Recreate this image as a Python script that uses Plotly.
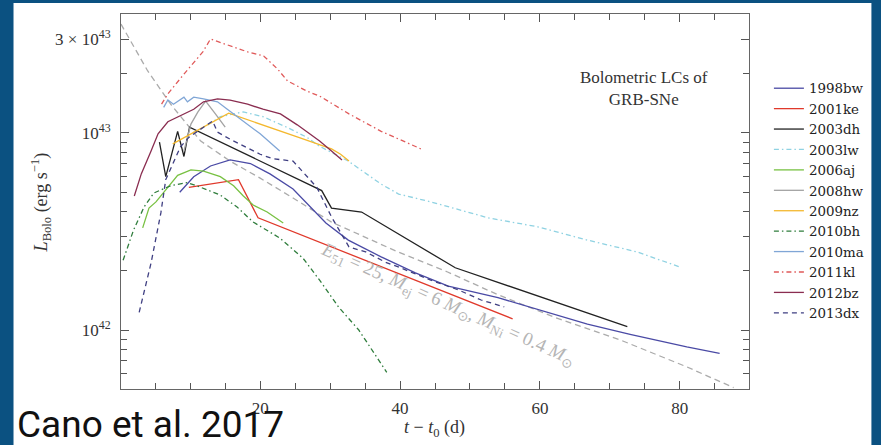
import plotly.graph_objects as go

# ---------------- data (L in units of 1e42 erg/s, t in days) ----------------
model_t = [0.1, 3.9, 7.2, 11.5, 15.7, 20.0, 24.7, 30.2, 39.7, 46.8, 54.0, 62.1, 71.5, 81.0, 87.7]
model_L = [35.7, 20.7, 14.0, 9.1, 7.2, 5.9, 4.68, 3.53, 2.49, 1.97, 1.51, 1.16, 0.89, 0.65, 0.51]

bw98_t = [8.5, 10.5, 12.9, 15.7, 18.6, 21.4, 24.7, 29.4, 32.6, 37.3, 42.2, 46.9, 54.0, 59.7, 66.8, 72.9, 81.0, 85.7]
bw98_L = [5.0, 6.0, 6.8, 7.3, 7.0, 6.2, 5.2, 3.49, 2.86, 2.35, 1.95, 1.67, 1.46, 1.27, 1.07, 0.95, 0.82, 0.76]

ke01_t = [9.8, 16.9, 19.7, 56.1]
ke01_L = [5.3, 5.8, 3.71, 1.14]

dh03_t = [5.6, 6.5, 8.2, 9.1, 9.9, 28.8, 30.2, 34.5, 47.9, 72.5]
dh03_L = [9.0, 6.0, 10.2, 7.6, 10.7, 5.1, 4.16, 3.97, 2.07, 1.04]

lw03_t = [12.5, 14.3, 17.6, 20.4, 23.8, 26.7, 28.4, 32.6, 37.3, 39.8, 44.4, 52.6, 59.7, 66.8, 73.9, 80.0]
lw03_L = [11.0, 12.1, 12.8, 12.1, 10.7, 9.5, 8.6, 7.2, 5.5, 4.9, 4.47, 3.71, 3.34, 2.86, 2.49, 2.09]

aj06_t = [3.2, 4.1, 5.1, 6.8, 8.2, 10.1, 11.9, 14.3, 16.2, 17.6, 19.0, 21.0, 23.3]
aj06_L = [3.30, 4.16, 4.47, 5.3, 6.1, 6.5, 6.4, 6.0, 5.4, 4.79, 4.31, 3.97, 3.49]

hw08_t = [9.1, 10.1, 11.1, 12.2, 13.6, 15.0]
hw08_L = [8.1, 11.1, 12.8, 14.5, 12.5, 10.7]

nz09_t = [7.5, 15.5, 25.5, 30.2, 31.5, 32.7]
nz09_L = [8.8, 12.6, 9.5, 8.3, 7.8, 7.2]

bh10_t = [0.4, 1.9, 3.4, 4.8, 7.2, 9.6, 11.5, 14.3, 16.7, 19.0, 22.8, 26.1, 28.5, 31.2, 34.1, 36.9, 38.1]
bh10_L = [2.26, 3.22, 4.21, 4.96, 5.4, 5.6, 5.3, 4.84, 4.21, 3.53, 2.93, 2.32, 1.79, 1.31, 1.0, 0.70, 0.61]

ma10_t = [6.2, 6.8, 7.6, 9.1, 9.6, 10.5, 11.9, 13.9, 15.3, 18.2, 20.0, 22.8]
ma10_L = [13.5, 14.7, 14.0, 15.2, 14.4, 15.2, 14.9, 14.4, 13.2, 11.1, 9.9, 8.1]

kl11_t = [5.9, 6.8, 9.1, 11.8, 12.9, 15.7, 18.2, 20.5, 22.5, 23.9, 26.7, 28.5, 32.7, 37.3, 43.0]
kl11_L = [14.0, 15.8, 19.9, 25.8, 30.0, 27.7, 25.8, 24.6, 21.1, 18.4, 16.3, 15.4, 12.5, 10.2, 8.3]

bz12_t = [2.0, 3.0, 4.4, 5.4, 6.8, 8.6, 10.5, 11.9, 13.9, 15.7, 18.2, 20.4, 22.9, 25.3, 27.5, 28.5, 30.2, 31.7]
bz12_L = [4.79, 6.2, 8.1, 9.9, 11.4, 12.2, 13.2, 14.4, 14.9, 14.7, 14.0, 13.2, 12.5, 11.0, 9.66, 9.1, 8.1, 7.3]

dx13_t = [2.7, 4.4, 5.8, 6.5, 8.6, 9.8, 11.9, 13.2, 13.9, 15.7, 20.0, 21.8, 24.7, 26.7, 28.1, 30.2, 32.7, 35.1, 37.9, 40.2, 44.4, 48.3, 51.6, 54.9]
dx13_L = [1.23, 2.19, 3.93, 5.8, 8.5, 9.5, 10.7, 11.5, 10.1, 9.3, 7.8, 7.4, 7.2, 6.0, 5.3, 3.75, 2.64, 2.49, 2.21, 2.06, 1.79, 1.60, 1.42, 1.31]

names = ["1998bw", "2001ke", "2003dh", "2003lw", "2006aj", "2008hw",
         "2009nz", "2010bh", "2010ma", "2011kl", "2012bz", "2013dx"]
series_t = [bw98_t, ke01_t, dh03_t, lw03_t, aj06_t, hw08_t, nz09_t, bh10_t, ma10_t, kl11_t, bz12_t, dx13_t]
series_L = [bw98_L, ke01_L, dh03_L, lw03_L, aj06_L, hw08_L, nz09_L, bh10_L, ma10_L, kl11_L, bz12_L, dx13_L]
colors = ["#4a4aa5", "#e0392b", "#222222", "#8fd2e2", "#78c142", "#a3a3a3",
          "#f4b82e", "#2f7d3c", "#80a6d6", "#e05a5a", "#8a2d50", "#3f3f82"]
DD = "5px,3px,1.5px,3px"
dashes = ["solid", "solid", "solid", DD, "solid", "solid",
          "solid", DD, "solid", DD, "solid", "5px,4px"]

ytick_vals = [1, 10, 30]
ytick_text = ["10<sup>42</sup>", "10<sup>43</sup>", "3 × 10<sup>43</sup>"]
yminor_vals = [0.6, 0.7, 0.8, 0.9, 2, 3, 4, 5, 6, 7, 8, 9, 20]
xtick_vals = [20, 40, 60, 80]

SERIF = "Liberation Serif"
BLUE = "#0b5181"

fig = go.Figure()

fig.add_trace(go.Scatter(x=model_t, y=model_L, mode="lines", showlegend=False,
                         line=dict(color="#ababab", width=1.3, dash="6px,4px"),
                         hoverinfo="skip"))

for n, t, L, c, d in zip(names, series_t, series_L, colors, dashes):
    fig.add_trace(go.Scatter(x=t, y=L, mode="lines", name=n,
                             line=dict(color=c, width=1.3, dash=d)))

axis_common = dict(showline=True, linecolor="#666666", linewidth=1, mirror="allticks",
                   ticks="inside", tickcolor="#555555", tickwidth=1, ticklen=8,
                   showgrid=False, zeroline=False,
                   tickfont=dict(family=SERIF, size=17, color="#333333"))

fig.update_xaxes(range=[0.1, 89.9], tickmode="array", tickvals=xtick_vals,
                 minor=dict(dtick=5, tick0=0, ticks="inside", ticklen=6, tickcolor="#555555"),
                 ticklabelstandoff=4, **axis_common)
fig.update_yaxes(type="log", range=[-0.2995, 1.604], tickmode="array",
                 tickvals=ytick_vals, ticktext=ytick_text,
                 minor=dict(tickmode="array", tickvals=yminor_vals, ticks="inside",
                            ticklen=6, tickcolor="#555555"),
                 ticklabelstandoff=6, **axis_common)

W, H = 881, 445
L_, R_, T_, B_ = 121, 752, 14, 389
pw, ph = R_ - L_, B_ - T_
def px(x):
    return (x - L_) / pw
def py(y):
    return (B_ - y) / ph

fig.add_shape(type="rect", xref="paper", yref="paper", layer="below",
              x0=px(13), x1=px(875), y0=py(446), y1=py(3),
              fillcolor="white", line=dict(width=0))

annotations = [
    dict(x=px(647), y=py(88), text="Bolometric LCs of<br>GRB-SNe",
         font=dict(family=SERIF, size=17, color="#333333")),
    dict(x=px(40), y=py(202), text="<i>L</i><sub>Bolo</sub> (erg s<sup>−1</sup>)", textangle=-90,
         font=dict(family=SERIF, size=18, color="#333333")),
    dict(x=px(436), y=py(428), text="<i>t</i> − <i>t</i><sub>0</sub> (d)",
         font=dict(family=SERIF, size=18, color="#333333")),
    dict(x=px(450), y=py(305), textangle=24,
         text="<i>E</i><sub>51</sub> = 25, <i>M</i><sub>ej</sub> = 6 <i>M</i><sub>⊙</sub>, "
              "<i>M</i><sub>Ni</sub> = 0.4 <i>M</i><sub>⊙</sub>",
         font=dict(family=SERIF, size=19, color="#b5b5b5")),
    dict(x=px(14), y=py(424), xanchor="left", text="Cano et al. 2017",
         font=dict(family="Roboto", size=37, color="#111111")),
]
for a in annotations:
    a.setdefault("xanchor", "center")
    fig.add_annotation(xref="paper", yref="paper", showarrow=False, yanchor="middle", **a)

fig.update_layout(
    width=W, height=H,
    margin=dict(l=L_, r=W - R_, t=T_, b=H - B_, pad=0),
    paper_bgcolor=BLUE, plot_bgcolor="white",
    legend=dict(x=px(772), y=py(73), xanchor="left", yanchor="top",
                bgcolor="rgba(0,0,0,0)", borderwidth=0,
                font=dict(family="DejaVu Serif", size=13.4, color="#222222"),
                itemwidth=30),
    showlegend=True,
)

fig.write_html("out.html")
